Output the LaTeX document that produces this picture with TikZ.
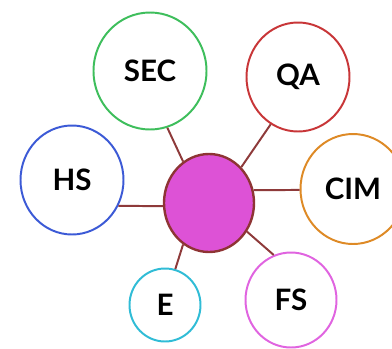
\documentclass[tikz,border=0pt]{standalone}
\usepackage{fontspec}
\setmainfont{Lato}
\usetikzlibrary{shapes.geometric}
\definecolor{secgreen}{RGB}{62,190,92}
\definecolor{qared}{RGB}{200,54,56}
\definecolor{hsblue}{RGB}{60,90,214}
\definecolor{cimorange}{RGB}{222,138,38}
\definecolor{ecyan}{RGB}{48,188,214}
\definecolor{fspink}{RGB}{224,100,224}
\definecolor{hubfill}{RGB}{221,82,214}
\definecolor{hubborder}{RGB}{142,52,52}
\definecolor{spokered}{RGB}{142,58,58}
\begin{document}
\begin{tikzpicture}[x=0.25mm,y=-0.25mm,
    bubble/.style={ellipse,draw,line width=1.4pt,fill=white,inner sep=0pt,
      font=\fontsize{21}{24}\selectfont\bfseries},
    spoke/.style={line width=1.4pt,draw=spokered}]
    \useasboundingbox (0,0) rectangle (392,348);
    \clip (0,0) rectangle (392,348);
    % hub in the middle
    \node[ellipse,draw=hubborder,fill=hubfill,line width=1.7pt,
      minimum width=90*0.25mm,minimum height=98*0.25mm] (hub) at (209,203) {};
    % the six bubbles round it
    \foreach \name/\txt/\x/\y/\col/\w/\h in {
      sec/SEC/150/71/secgreen/113/117,
      qa/QA/298/77/qared/103/109,
      hs/HS/72/180/hsblue/103/109,
      cim/CIM/353/189/cimorange/105/110,
      e/E/165/305/ecyan/71/73,
      fs/FS/291/300/fspink/91/95}
    {
      \node[bubble,draw=\col,minimum width=\w*0.25mm,minimum height=\h*0.25mm]
        (\name) at (\x,\y) {\txt};
    }
    % spokes
    \foreach \name/\a/\b in {sec/122/287,qa/48/240,hs/184/331,cim/16/181,fs/323/111,e/238/74}
      \draw[spoke] (hub.\a) -- (\name.\b);
\end{tikzpicture}
\end{document}
